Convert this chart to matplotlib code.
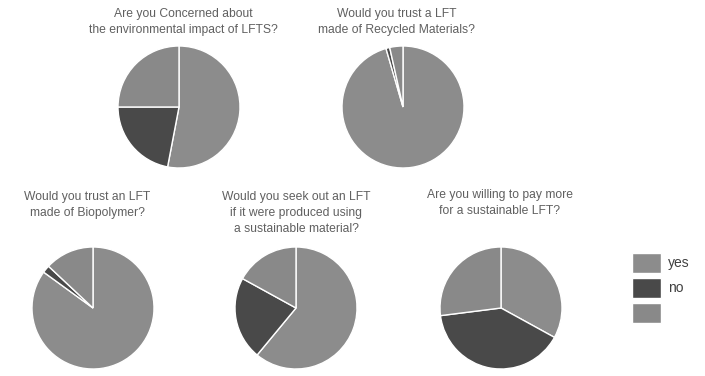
import matplotlib
matplotlib.use('Agg')
import matplotlib.pyplot as plt

plt.rcParams['font.family'] = ['Liberation Sans', 'DejaVu Sans']

W, H = 705, 376

# survey answers (percent): yes / no / no answer
labels = ['yes', 'no', '']
colors = ['#8c8c8c', '#494949', '#898989']

questions = [
    'Are you Concerned about\nthe environmental impact of LFTS?',
    'Would you trust a LFT\nmade of Recycled Materials?',
    'Would you trust an LFT\nmade of Biopolymer?',
    'Would you seek out an LFT\nif it were produced using\na sustainable material?',
    'Are you willing to pay more\nfor a sustainable LFT?',
]
concerned = [53, 22, 25]
recycled = [95.5, 1, 3.5]
biopolymer = [85, 2, 13]
seek_out = [61, 22, 17]
pay_more = [33, 40, 27]
answers = [concerned, recycled, biopolymer, seek_out, pay_more]

# pixel layout: pie centres, title centres
pie_xy = [(179, 107), (403, 107), (93, 308), (296, 308), (501, 308)]
title_xy = [(183, 22), (397, 22), (87, 205), (296, 213), (500, 203)]
R = 61

fig = plt.figure(figsize=(W / 100, H / 100), dpi=100)
fig.patch.set_facecolor('white')

wedges = None
for q, vals, (cx, cy), (tx, ty) in zip(questions, answers, pie_xy, title_xy):
    ax = fig.add_axes([(cx - R) / W, 1 - (cy + R) / H, 2 * R / W, 2 * R / H])
    w, _ = ax.pie(vals, colors=colors, startangle=90, counterclock=False,
                  wedgeprops=dict(edgecolor='white', linewidth=1.0))
    ax.set_xlim(-1, 1); ax.set_ylim(-1, 1)
    ax.set_aspect('equal')
    ax.axis('off')
    if wedges is None:
        wedges = w
    fig.text(tx / W, 1 - ty / H, q, ha='center', va='center', fontsize=8.7,
             color='#606060', linespacing=1.4)

fig.legend(wedges, labels, loc='center left', bbox_to_anchor=(632 / W, 1 - 288 / H),
           frameon=False, fontsize=10, handlelength=2.1, handleheight=1.75,
           labelspacing=0.42, handletextpad=0.5, borderpad=0, borderaxespad=0,
           labelcolor='#404040')

fig.savefig('out.png', dpi=100, facecolor='white')
